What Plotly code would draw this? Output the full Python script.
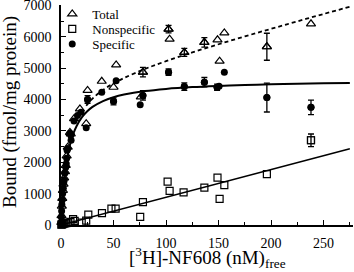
import plotly.graph_objects as go

# ---- data ----
total_x = [0.3, 0.5, 0.8, 1.2, 1.8, 2.4, 3.0, 3.8, 4.5, 5.4, 6.4, 8.5, 9.3, 12.4, 18, 24, 25.3,
           38.8, 50, 52.5, 76, 78, 102.4, 103.4, 117.4, 136.5, 149, 151, 155.5, 196, 238]
total_y = [80, 300, 600, 850, 1100, 1300, 1500, 1700, 1900, 2200, 2480, 2950, 2900, 3390, 3700, 3230, 4290,
           4580, 4390, 5100, 4080, 4870, 6240, 5920, 5500, 5820, 5900, 5220, 6120, 5680, 6410]

nonspec_x = [0.3, 0.8, 1.5, 2.5, 3.5, 5, 7, 9, 11.5, 13, 19.7, 24, 26, 39, 48, 52, 75.4, 78,
             101.5, 103.4, 116.7, 136.5, 149, 151, 155.5, 196, 238]
nonspec_y = [10, 20, 30, 40, 50, 60, 80, 100, 190, 130, 80, 140, 330, 380, 520, 520, 260, 730,
             1380, 1090, 1040, 1190, 1510, 830, 1270, 1620, 2700]

spec_x = [0.2, 0.4, 0.6, 0.8, 1.2, 1.6, 2.2, 2.6, 3.1, 3.6, 4.5, 5.0, 5.4, 5.8, 6.4, 8.5, 9.3, 9.6,
          12.4, 15.7, 19, 24, 25.3, 38.8, 50, 52.5, 75.4, 78, 102.4, 117.4, 136.5, 148.6, 150.5, 155.5, 196, 238]
spec_y = [60, 250, 450, 650, 800, 1000, 1170, 1350, 1430, 1650, 1840, 1950, 2130, 2380, 2440, 2920, 2860, 2700,
          3310, 3490, 3590, 3100, 4000, 4230, 3940, 4600, 3830, 4130, 4870, 4410, 4550, 4390, 4420, 4870, 4060, 3750]

# points that carry error bars
total_err_x = [78, 102.4, 117.4, 136.5, 196]
total_err_y = [4870, 6240, 5500, 5820, 5680]
total_err = [150, 120, 130, 150, 430]

spec_err_x = [25.3, 50, 78, 102.4, 117.4, 136.5, 148.6, 196, 238]
spec_err_y = [4000, 3940, 4130, 4870, 4410, 4550, 4390, 4060, 3750]
spec_err = [120, 110, 150, 100, 120, 150, 100, 460, 230]

nonspec_err_x = [238]
nonspec_err_y = [2700]
nonspec_err = [200]

# fitted curves
fit_spec_x = [0, 1, 2, 3, 4, 5, 6, 8, 10, 12, 15, 20, 25, 30, 40, 50, 60, 80, 100, 125, 150, 175, 200, 225, 250, 275]
fit_spec_y = [0, 580, 1031, 1392, 1687, 1933, 2142, 2475, 2729, 2931, 3164, 3437, 3625, 3762, 3949, 4070,
              4155, 4267, 4336, 4394, 4433, 4462, 4483, 4500, 4514, 4525]
fit_total_x = [24, 30, 40, 50, 60, 80, 100, 125, 150, 175, 200, 225, 250, 275]
fit_total_y = [3800, 4027, 4303, 4512, 4685, 4974, 5220, 5499, 5759, 6009, 6251, 6489, 6724, 6956]
fit_nonspec_x = [0, 275]
fit_nonspec_y = [0, 2430]

x_ticks = [0, 50, 100, 150, 200, 250]
y_ticks = [0, 1000, 2000, 3000, 4000, 5000, 6000, 7000]

FONT = "Liberation Serif, Times New Roman, serif"
BLK = "black"

fig = go.Figure()

# fit lines
fig.add_trace(go.Scatter(x=fit_total_x, y=fit_total_y, mode="lines", line_shape="spline",
                         line=dict(color=BLK, width=1.8, dash="4px,3px"), showlegend=False, hoverinfo="skip"))
fig.add_trace(go.Scatter(x=fit_spec_x, y=fit_spec_y, mode="lines", line_shape="spline",
                         line=dict(color=BLK, width=2), showlegend=False, hoverinfo="skip"))
fig.add_trace(go.Scatter(x=fit_nonspec_x, y=fit_nonspec_y, mode="lines",
                         line=dict(color=BLK, width=1.5), showlegend=False, hoverinfo="skip"))

tri = dict(symbol="triangle-up-open", size=8, color=BLK, line=dict(color=BLK, width=1.2))
sq = dict(symbol="square-open", size=7, color=BLK, line=dict(color=BLK, width=1.2))
circ = dict(symbol="circle", size=7, color=BLK, line=dict(width=0))

def eb(arr):
    return dict(type="data", array=arr, visible=True, color=BLK, thickness=1.3, width=3)

# error bar traces
fig.add_trace(go.Scatter(x=total_err_x, y=total_err_y, mode="markers", marker=tri,
                         error_y=eb(total_err), showlegend=False, cliponaxis=False))
fig.add_trace(go.Scatter(x=spec_err_x, y=spec_err_y, mode="markers", marker=circ,
                         error_y=eb(spec_err), showlegend=False, cliponaxis=False))
fig.add_trace(go.Scatter(x=nonspec_err_x, y=nonspec_err_y, mode="markers", marker=sq,
                         error_y=eb(nonspec_err), showlegend=False, cliponaxis=False))

# main data, each in its own legend so the rows can sit close together
fig.add_trace(go.Scatter(x=total_x, y=total_y, mode="markers", marker=tri, name="Total",
                         cliponaxis=False, legend="legend"))
fig.add_trace(go.Scatter(x=nonspec_x, y=nonspec_y, mode="markers", marker=sq, name="Nonspecific",
                         cliponaxis=False, legend="legend2"))
fig.add_trace(go.Scatter(x=spec_x, y=spec_y, mode="markers", marker=circ, name="Specific",
                         cliponaxis=False, legend="legend3"))

axis_common = dict(showgrid=False, zeroline=False, showline=True, linecolor=BLK, linewidth=1.6,
                   ticks="inside", ticklen=5, tickwidth=1.3, tickcolor=BLK,
                   ticklabeloverflow="allow",
                   tickfont=dict(family=FONT, size=14, color=BLK))

fig.update_xaxes(range=[0, 278], tickvals=x_ticks,
                 minor=dict(ticks="inside", dtick=25, ticklen=3, tickwidth=1.2, tickcolor=BLK),
                 ticklabelstandoff=4, **axis_common)
fig.update_yaxes(range=[0, 7010], tickvals=y_ticks,
                 minor=dict(ticks="inside", dtick=500, ticklen=3, tickwidth=1.2, tickcolor=BLK),
                 ticklabelstandoff=5, **axis_common)

leg_common = dict(xanchor="left", yanchor="middle", bgcolor="rgba(0,0,0,0)",
                  font=dict(family=FONT, size=13, color=BLK), itemwidth=30, borderwidth=0)
LX = -0.03
fig.update_layout(
    width=354, height=272,
    margin=dict(l=61, r=1, t=5, b=47, autoexpand=False),
    paper_bgcolor="white", plot_bgcolor="white",
    font=dict(family=FONT, color=BLK),
    showlegend=True,
    legend=dict(x=LX, y=0.959, **leg_common),
    legend2=dict(x=LX, y=0.891, **leg_common),
    legend3=dict(x=LX, y=0.823, **leg_common),
    annotations=[
        dict(text="[<sup>3</sup>H]-NF608 (nM)<sub>free</sub>", xref="paper", yref="paper",
             x=0.5, y=0, xanchor="center", yanchor="middle", yshift=-32, showarrow=False,
             font=dict(family=FONT, size=19, color=BLK)),
        dict(text="Bound (fmol/mg protein)", xref="paper", yref="paper",
             x=0, y=0.5, xanchor="center", yanchor="middle", xshift=-51, yshift=3, textangle=-90,
             showarrow=False, font=dict(family=FONT, size=19, color=BLK)),
    ],
)

fig.write_html("out.html", config={"displayModeBar": False},
               post_script="document.body.style.margin='0';")
